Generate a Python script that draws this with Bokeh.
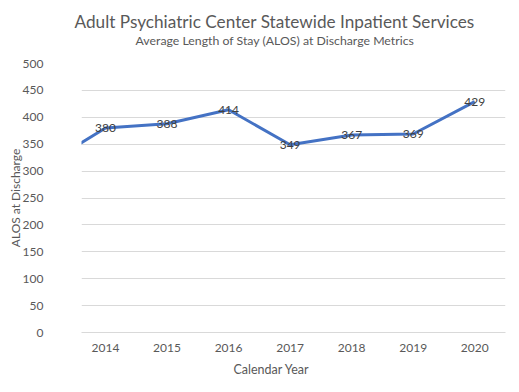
from bokeh.plotting import figure
from bokeh.models import Range1d, FixedTicker, Title, ColumnDataSource
from bokeh.embed import file_html
from bokeh.resources import INLINE
from bokeh.core.properties import value

# Data
years = [2013, 2014, 2015, 2016, 2017, 2018, 2019, 2020]
alos = [310, 380, 388, 414, 349, 367, 369, 429]
label_years = [2014, 2015, 2016, 2017, 2018, 2019, 2020]
label_values = [380, 388, 414, 349, 367, 369, 429]
y_ticks = [0, 50, 100, 150, 200, 250, 300, 350, 400, 450, 500]

title = "Adult Psychiatric Center Statewide Inpatient Services"
subtitle = "Average Length  of Stay (ALOS)  at Discharge Metrics"
x_title = "Calendar Year"
y_title = "ALOS at Discharge"

FONT = "Lato"
GREY = "#595959"

p = figure(width=511, height=384, output_backend="svg", toolbar_location=None,
           x_range=Range1d(2013.61, 2020.5), y_range=Range1d(0, 500),
           min_border_left=81, min_border_right=6, min_border_top=63,
           min_border_bottom=52)
p.outline_line_color = None
p.background_fill_color = "white"
p.border_fill_color = "white"

# grid
p.xgrid.grid_line_color = None
p.ygrid.grid_line_color = "#d9d9d9"
p.ygrid.grid_line_width = 1
p.yaxis.ticker = FixedTicker(ticks=y_ticks)
p.xaxis.ticker = FixedTicker(ticks=label_years)

for ax in (p.xaxis[0], p.yaxis[0]):
    ax.major_tick_line_color = None
    ax.minor_tick_line_color = None
    ax.major_label_text_font = FONT
    ax.major_label_text_font_size = "12px"
    ax.major_label_text_color = GREY
    ax.axis_label_text_font = FONT
    ax.axis_label_text_font_size = "12px"
    ax.axis_label_text_color = GREY
    ax.axis_label_text_font_style = "normal"
p.yaxis.axis_line_color = None
p.xaxis.axis_line_color = "#d9d9d9"
p.yaxis.major_label_standoff = 32
p.xaxis.major_label_standoff = 5
p.yaxis.axis_label = y_title
p.yaxis.axis_label_standoff = -3

src = ColumnDataSource(data=dict(x=years, y=alos))
p.line("x", "y", source=src, line_color="#4472C4", line_width=3)

lsrc = ColumnDataSource(data=dict(x=label_years, y=label_values,
                                  t=[str(v) for v in label_values]))
p.text("x", "y", text="t", source=lsrc, text_align="center",
       text_baseline="middle", text_font=value(FONT), text_font_size="12px",
       text_color="#404040")

# titles (stacked outward from the plot frame)
p.add_layout(Title(text=" ", align="left", standoff=-1,
                   text_font=FONT, text_font_size="12px"), "above")
p.add_layout(Title(text=subtitle, align="left", offset=54, standoff=0,
                   text_font=FONT, text_font_size="12.3px", text_color=GREY,
                   text_font_style="normal"), "above")
p.add_layout(Title(text=title, align="left", offset=-7, standoff=-2,
                   text_font=FONT, text_font_size="17.2px", text_color=GREY,
                   text_font_style="normal"), "above")
p.add_layout(Title(text=x_title, align="left", offset=152, standoff=11,
                   text_font=FONT, text_font_size="12.5px", text_color=GREY,
                   text_font_style="normal"), "below")

open("out.html", "w").write(file_html(p, INLINE))
